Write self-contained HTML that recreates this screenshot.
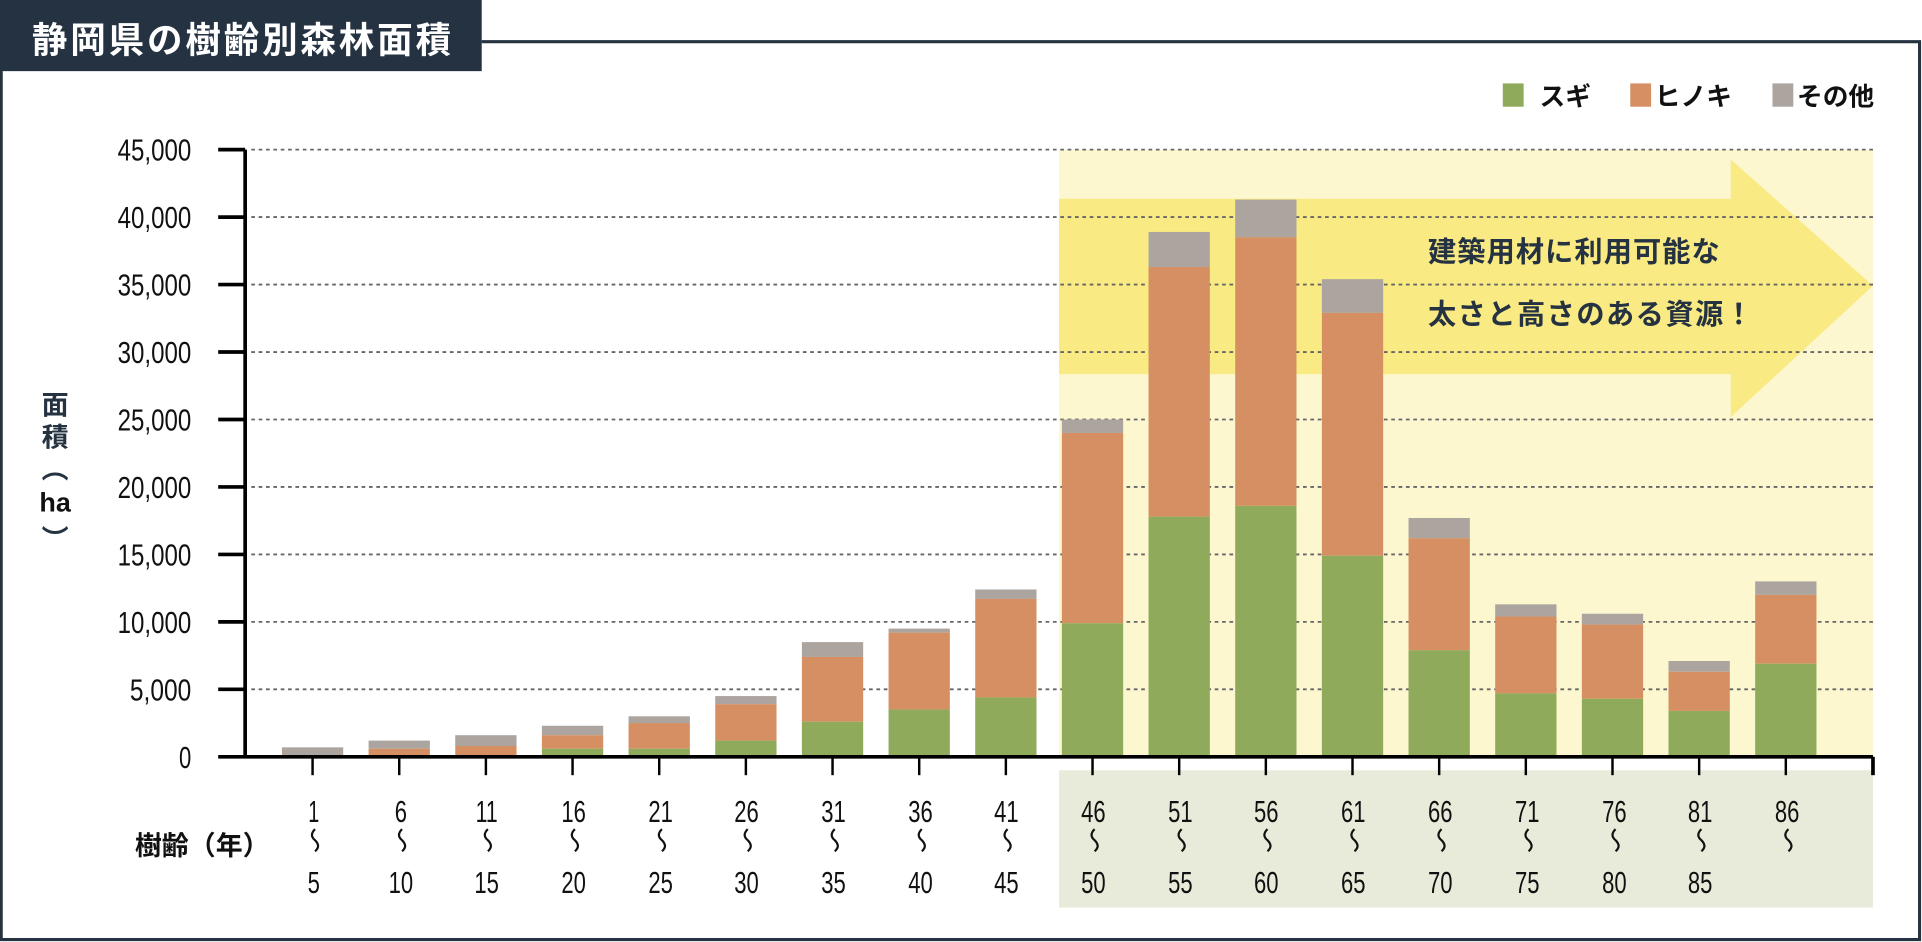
<!DOCTYPE html>
<html><head><meta charset="utf-8"><style>
html,body{margin:0;padding:0;background:#fff;}
svg{display:block;}
.n{font-family:"Liberation Sans Narrow","Liberation Sans",sans-serif;font-size:25px;fill:#111;}
.j{font-family:"Liberation Sans","Noto Sans CJK JP",sans-serif;font-weight:bold;}
</style></head><body>
<svg width="1922" height="942" viewBox="0 0 1568 768" preserveAspectRatio="none" xmlns="http://www.w3.org/2000/svg">
<rect width="1568" height="768" fill="#fff"/>
<path d="M393 34 H1566 V766 H1 V34" fill="none" stroke="#253241" stroke-width="2.5"/>
<rect x="0" y="0" width="393" height="58" fill="#253241"/>
<text x="26" y="43" class="j" font-size="29" fill="#fff" textLength="342" lengthAdjust="spacing">静岡県の樹齢別森林面積</text>
<rect x="1226" y="68" width="17" height="19" fill="#8eaa5a"/>
<text x="1256" y="86" class="j" font-size="21" fill="#111">スギ</text>
<rect x="1330" y="68" width="17" height="19" fill="#d58f62"/>
<text x="1350" y="86" class="j" font-size="21" fill="#111">ヒノキ</text>
<rect x="1446" y="68" width="17" height="19" fill="#aba49f"/>
<text x="1466" y="86" class="j" font-size="21" fill="#111">その他</text>
<rect x="864" y="122" width="664" height="495" fill="#fdf7cf"/>
<polygon points="864,162 1412,162 1412,130 1528,233 1412,340 1412,305 864,305" fill="#f9ea83"/>
<rect x="864" y="628" width="664" height="112" fill="#e9ebda"/>
<text x="1165" y="213" class="j" font-size="23" fill="#253241" textLength="238" lengthAdjust="spacing">建築用材に利用可能な</text>
<text x="1165" y="264" class="j" font-size="23" fill="#253241" textLength="265" lengthAdjust="spacing">太さと高さのある資源！</text>
<g stroke="#666" stroke-width="1.5" stroke-dasharray="3,3">
<line x1="205" y1="122" x2="1528" y2="122"/><line x1="205" y1="177" x2="1528" y2="177"/>
<line x1="205" y1="232" x2="1528" y2="232"/><line x1="205" y1="287" x2="1528" y2="287"/>
<line x1="205" y1="342" x2="1528" y2="342"/><line x1="205" y1="397" x2="1528" y2="397"/>
<line x1="205" y1="452" x2="1528" y2="452"/><line x1="205" y1="507" x2="1528" y2="507"/>
<line x1="205" y1="562" x2="1528" y2="562"/>
</g>
<g>
<rect x="230" y="609.3" width="50" height="7.7" fill="#aba49f"/><rect x="230" y="615.9" width="50" height="1.1" fill="#d58f62"/>
<rect x="300.7" y="603.8" width="50" height="6.6" fill="#aba49f"/><rect x="300.7" y="610.4" width="50" height="6.6" fill="#d58f62"/>
<rect x="371.4" y="599.4" width="50" height="8.8" fill="#aba49f"/><rect x="371.4" y="608.2" width="50" height="7.7" fill="#d58f62"/><rect x="371.4" y="615.9" width="50" height="1.1" fill="#8eaa5a"/>
<rect x="442.1" y="591.7" width="50" height="7.7" fill="#aba49f"/><rect x="442.1" y="599.4" width="50" height="11" fill="#d58f62"/><rect x="442.1" y="610.4" width="50" height="6.6" fill="#8eaa5a"/>
<rect x="512.8" y="584" width="50" height="5.5" fill="#aba49f"/><rect x="512.8" y="589.5" width="50" height="20.9" fill="#d58f62"/><rect x="512.8" y="610.4" width="50" height="6.6" fill="#8eaa5a"/>
<rect x="583.5" y="567.5" width="50" height="6.6" fill="#aba49f"/><rect x="583.5" y="574.1" width="50" height="29.7" fill="#d58f62"/><rect x="583.5" y="603.8" width="50" height="13.2" fill="#8eaa5a"/>
<rect x="654.2" y="523.5" width="50" height="12.1" fill="#aba49f"/><rect x="654.2" y="535.6" width="50" height="52.8" fill="#d58f62"/><rect x="654.2" y="588.4" width="50" height="28.6" fill="#8eaa5a"/>
<rect x="724.9" y="512.5" width="50" height="3.3" fill="#aba49f"/><rect x="724.9" y="515.8" width="50" height="62.7" fill="#d58f62"/><rect x="724.9" y="578.5" width="50" height="38.5" fill="#8eaa5a"/>
<rect x="795.6" y="480.6" width="50" height="7.7" fill="#aba49f"/><rect x="795.6" y="488.3" width="50" height="80.3" fill="#d58f62"/><rect x="795.6" y="568.6" width="50" height="48.4" fill="#8eaa5a"/>
<rect x="866.3" y="342" width="50" height="11" fill="#aba49f"/><rect x="866.3" y="353" width="50" height="155.1" fill="#d58f62"/><rect x="866.3" y="508.1" width="50" height="108.9" fill="#8eaa5a"/>
<rect x="937" y="189.1" width="50" height="28.6" fill="#aba49f"/><rect x="937" y="217.7" width="50" height="203.5" fill="#d58f62"/><rect x="937" y="421.2" width="50" height="195.8" fill="#8eaa5a"/>
<rect x="1007.7" y="162.7" width="50" height="30.8" fill="#aba49f"/><rect x="1007.7" y="193.5" width="50" height="218.9" fill="#d58f62"/><rect x="1007.7" y="412.4" width="50" height="204.6" fill="#8eaa5a"/>
<rect x="1078.4" y="227.6" width="50" height="27.5" fill="#aba49f"/><rect x="1078.4" y="255.1" width="50" height="198" fill="#d58f62"/><rect x="1078.4" y="453.1" width="50" height="163.9" fill="#8eaa5a"/>
<rect x="1149.1" y="422.3" width="50" height="16.5" fill="#aba49f"/><rect x="1149.1" y="438.8" width="50" height="91.3" fill="#d58f62"/><rect x="1149.1" y="530.1" width="50" height="86.9" fill="#8eaa5a"/>
<rect x="1219.8" y="492.7" width="50" height="9.9" fill="#aba49f"/><rect x="1219.8" y="502.6" width="50" height="62.7" fill="#d58f62"/><rect x="1219.8" y="565.3" width="50" height="51.7" fill="#8eaa5a"/>
<rect x="1290.5" y="500.4" width="50" height="8.8" fill="#aba49f"/><rect x="1290.5" y="509.2" width="50" height="60.5" fill="#d58f62"/><rect x="1290.5" y="569.7" width="50" height="47.3" fill="#8eaa5a"/>
<rect x="1361.2" y="538.9" width="50" height="8.8" fill="#aba49f"/><rect x="1361.2" y="547.7" width="50" height="31.9" fill="#d58f62"/><rect x="1361.2" y="579.6" width="50" height="37.4" fill="#8eaa5a"/>
<rect x="1431.9" y="474" width="50" height="11" fill="#aba49f"/><rect x="1431.9" y="485" width="50" height="56.1" fill="#d58f62"/><rect x="1431.9" y="541.1" width="50" height="75.9" fill="#8eaa5a"/>
</g>
<g stroke="#000" stroke-width="3">
<line x1="200" y1="122" x2="200" y2="617"/>
<line x1="178" y1="617" x2="1528" y2="617"/>
<line x1="1528" y1="617" x2="1528" y2="632"/>
<line x1="178" y1="122" x2="200" y2="122"/><line x1="178" y1="177" x2="200" y2="177"/><line x1="178" y1="232" x2="200" y2="232"/>
<line x1="178" y1="287" x2="200" y2="287"/><line x1="178" y1="342" x2="200" y2="342"/><line x1="178" y1="397" x2="200" y2="397"/>
<line x1="178" y1="452" x2="200" y2="452"/><line x1="178" y1="507" x2="200" y2="507"/><line x1="178" y1="562" x2="200" y2="562"/>
</g>
<g stroke="#000" stroke-width="2">
<line x1="255" y1="617" x2="255" y2="632"/><line x1="325.7" y1="617" x2="325.7" y2="632"/><line x1="396.4" y1="617" x2="396.4" y2="632"/>
<line x1="467.1" y1="617" x2="467.1" y2="632"/><line x1="537.8" y1="617" x2="537.8" y2="632"/><line x1="608.5" y1="617" x2="608.5" y2="632"/>
<line x1="679.2" y1="617" x2="679.2" y2="632"/><line x1="749.9" y1="617" x2="749.9" y2="632"/><line x1="820.6" y1="617" x2="820.6" y2="632"/>
<line x1="891.3" y1="617" x2="891.3" y2="632"/><line x1="962" y1="617" x2="962" y2="632"/><line x1="1032.7" y1="617" x2="1032.7" y2="632"/>
<line x1="1103.4" y1="617" x2="1103.4" y2="632"/><line x1="1174.1" y1="617" x2="1174.1" y2="632"/><line x1="1244.8" y1="617" x2="1244.8" y2="632"/>
<line x1="1315.5" y1="617" x2="1315.5" y2="632"/><line x1="1386.2" y1="617" x2="1386.2" y2="632"/><line x1="1456.9" y1="617" x2="1456.9" y2="632"/>
</g>
<g class="n" text-anchor="end">
<text x="156" y="131" textLength="60" lengthAdjust="spacingAndGlyphs">45,000</text>
<text x="156" y="186" textLength="60" lengthAdjust="spacingAndGlyphs">40,000</text>
<text x="156" y="241" textLength="60" lengthAdjust="spacingAndGlyphs">35,000</text>
<text x="156" y="296" textLength="60" lengthAdjust="spacingAndGlyphs">30,000</text>
<text x="156" y="351" textLength="60" lengthAdjust="spacingAndGlyphs">25,000</text>
<text x="156" y="406" textLength="60" lengthAdjust="spacingAndGlyphs">20,000</text>
<text x="156" y="461" textLength="60" lengthAdjust="spacingAndGlyphs">15,000</text>
<text x="156" y="516" textLength="60" lengthAdjust="spacingAndGlyphs">10,000</text>
<text x="156" y="571" textLength="50" lengthAdjust="spacingAndGlyphs">5,000</text>
<text x="156" y="626" textLength="10" lengthAdjust="spacingAndGlyphs">0</text>
</g>
<g class="j" fill="#253241" font-size="22" text-anchor="middle">
<text x="45" y="338">面</text><text x="45" y="364">積</text>
<text x="45" y="390">︵</text><text x="45" y="417" fill="#111">ha</text>
<text x="45" y="447">︶</text>
</g>
<text x="110" y="697" class="j" font-size="22" fill="#111">樹齢（年）</text>
<g class="n" text-anchor="middle" font-size="26">
<text x="256" y="670" textLength="9" lengthAdjust="spacingAndGlyphs">1</text><text x="327" y="670" textLength="10" lengthAdjust="spacingAndGlyphs">6</text><text x="397" y="670" textLength="18" lengthAdjust="spacingAndGlyphs">11</text><text x="468" y="670" textLength="20" lengthAdjust="spacingAndGlyphs">16</text><text x="539" y="670" textLength="20" lengthAdjust="spacingAndGlyphs">21</text><text x="609" y="670" textLength="20" lengthAdjust="spacingAndGlyphs">26</text><text x="680" y="670" textLength="20" lengthAdjust="spacingAndGlyphs">31</text><text x="751" y="670" textLength="20" lengthAdjust="spacingAndGlyphs">36</text><text x="821" y="670" textLength="20" lengthAdjust="spacingAndGlyphs">41</text>
<text x="892" y="670" textLength="20" lengthAdjust="spacingAndGlyphs">46</text><text x="963" y="670" textLength="20" lengthAdjust="spacingAndGlyphs">51</text><text x="1033" y="670" textLength="20" lengthAdjust="spacingAndGlyphs">56</text><text x="1104" y="670" textLength="20" lengthAdjust="spacingAndGlyphs">61</text><text x="1175" y="670" textLength="20" lengthAdjust="spacingAndGlyphs">66</text><text x="1246" y="670" textLength="20" lengthAdjust="spacingAndGlyphs">71</text><text x="1317" y="670" textLength="20" lengthAdjust="spacingAndGlyphs">76</text><text x="1387" y="670" textLength="20" lengthAdjust="spacingAndGlyphs">81</text><text x="1458" y="670" textLength="20" lengthAdjust="spacingAndGlyphs">86</text>
<text x="256" y="728" textLength="10" lengthAdjust="spacingAndGlyphs">5</text><text x="327" y="728" textLength="20" lengthAdjust="spacingAndGlyphs">10</text><text x="397" y="728" textLength="20" lengthAdjust="spacingAndGlyphs">15</text><text x="468" y="728" textLength="20" lengthAdjust="spacingAndGlyphs">20</text><text x="539" y="728" textLength="20" lengthAdjust="spacingAndGlyphs">25</text><text x="609" y="728" textLength="20" lengthAdjust="spacingAndGlyphs">30</text><text x="680" y="728" textLength="20" lengthAdjust="spacingAndGlyphs">35</text><text x="751" y="728" textLength="20" lengthAdjust="spacingAndGlyphs">40</text><text x="821" y="728" textLength="20" lengthAdjust="spacingAndGlyphs">45</text>
<text x="892" y="728" textLength="20" lengthAdjust="spacingAndGlyphs">50</text><text x="963" y="728" textLength="20" lengthAdjust="spacingAndGlyphs">55</text><text x="1033" y="728" textLength="20" lengthAdjust="spacingAndGlyphs">60</text><text x="1104" y="728" textLength="20" lengthAdjust="spacingAndGlyphs">65</text><text x="1175" y="728" textLength="20" lengthAdjust="spacingAndGlyphs">70</text><text x="1246" y="728" textLength="20" lengthAdjust="spacingAndGlyphs">75</text><text x="1317" y="728" textLength="20" lengthAdjust="spacingAndGlyphs">80</text><text x="1387" y="728" textLength="20" lengthAdjust="spacingAndGlyphs">85</text>
</g>
<g fill="none" stroke="#111" stroke-width="1.8">
<path d="M257 676 q-5 5 0 9 q5 5 0 9"/>
<path d="M328 676 q-5 5 0 9 q5 5 0 9"/><path d="M398 676 q-5 5 0 9 q5 5 0 9"/><path d="M469 676 q-5 5 0 9 q5 5 0 9"/><path d="M540 676 q-5 5 0 9 q5 5 0 9"/><path d="M610 676 q-5 5 0 9 q5 5 0 9"/><path d="M681 676 q-5 5 0 9 q5 5 0 9"/><path d="M752 676 q-5 5 0 9 q5 5 0 9"/><path d="M822 676 q-5 5 0 9 q5 5 0 9"/>
<path d="M893 676 q-5 5 0 9 q5 5 0 9"/><path d="M964 676 q-5 5 0 9 q5 5 0 9"/><path d="M1034 676 q-5 5 0 9 q5 5 0 9"/><path d="M1105 676 q-5 5 0 9 q5 5 0 9"/><path d="M1176 676 q-5 5 0 9 q5 5 0 9"/><path d="M1247 676 q-5 5 0 9 q5 5 0 9"/><path d="M1318 676 q-5 5 0 9 q5 5 0 9"/><path d="M1388 676 q-5 5 0 9 q5 5 0 9"/><path d="M1459 676 q-5 5 0 9 q5 5 0 9"/>
</g>
</svg>
</body></html>
